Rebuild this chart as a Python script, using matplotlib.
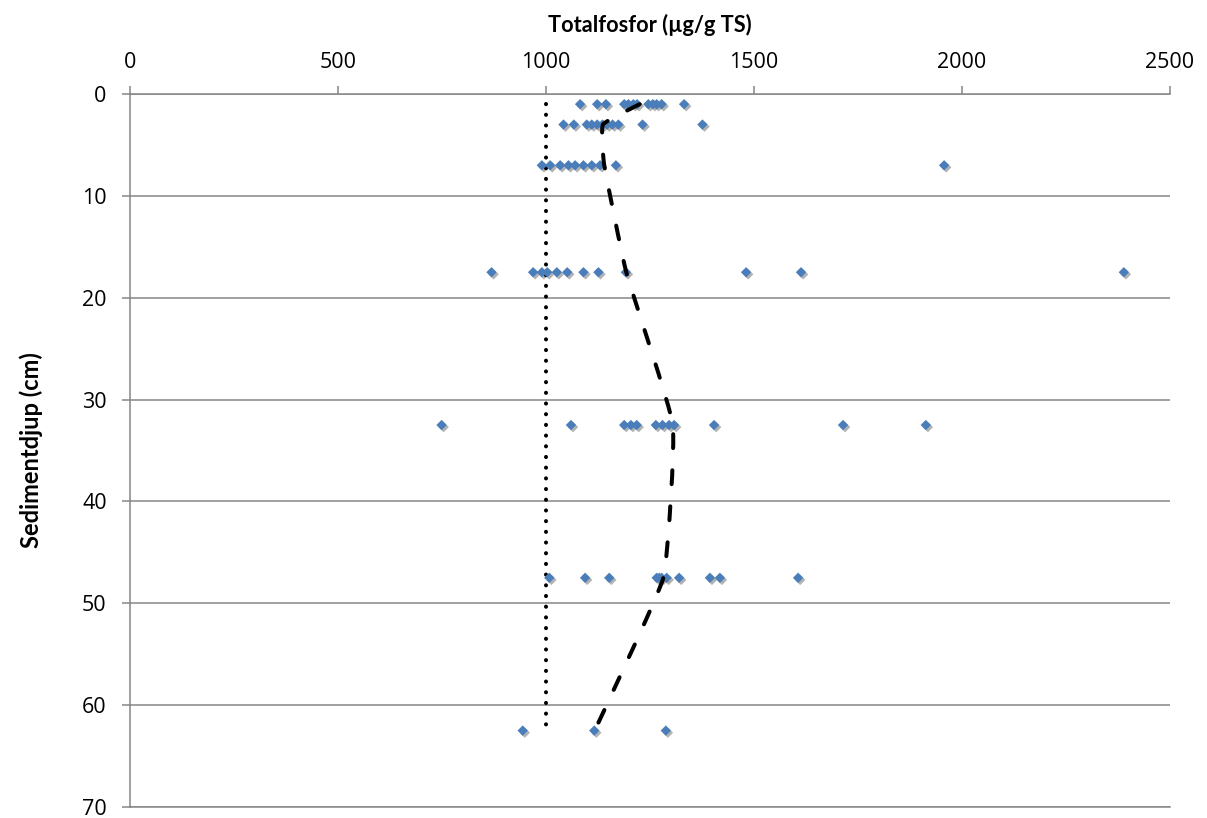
import matplotlib
matplotlib.use("Agg")
import matplotlib.pyplot as plt
from matplotlib.path import Path
from matplotlib.patches import PathPatch
import matplotlib.patheffects as pe

plt.rcParams['font.family'] = ['Open Sans', 'DejaVu Sans']
plt.rcParams['lines.scale_dashes'] = False

# ---- data ----
depths = [1, 3, 7, 17.5, 32.5, 47.5, 62.5]
values_1 = [1082, 1123, 1144, 1188, 1198, 1210, 1219, 1246, 1257, 1266, 1278, 1332]
values_3 = [1042, 1067, 1098, 1110, 1123, 1136, 1147, 1160, 1174, 1232, 1376]
values_7 = [990, 1010, 1034, 1054, 1070, 1090, 1110, 1130, 1168, 1957]
values_17_5 = [869, 969, 990, 1003, 1026, 1051, 1090, 1126, 1192, 1481, 1613, 2389]
values_32_5 = [749, 1060, 1188, 1204, 1218, 1264, 1280, 1296, 1308, 1404, 1714, 1913]
values_47_5 = [1008, 1094, 1152, 1266, 1272, 1278, 1290, 1320, 1394, 1418, 1606]
values_62_5 = [944, 1116, 1288]
all_values = [values_1, values_3, values_7, values_17_5, values_32_5, values_47_5, values_62_5]

trend_depth = [1, 3, 7, 17.5, 32.5, 47.5, 62.5]
trend_value = [1225, 1137, 1140, 1193, 1305, 1282, 1117]

ref_depth = [1, 62.5]
ref_value = [1000, 1000]

x_ticks = [0, 500, 1000, 1500, 2000, 2500]
y_ticks = [0, 10, 20, 30, 40, 50, 60, 70]

# ---- figure ----
fig = plt.figure(figsize=(12.07, 8.18), dpi=100)
ax = fig.add_axes([130 / 1207, 11 / 818, 1040 / 1207, 713 / 818])
ax.set_xlim(0, 2500)
ax.set_ylim(70, 0)

grey = '#868686'
ax.xaxis.tick_top()
ax.xaxis.set_label_position('top')
ax.set_xticks(x_ticks)
ax.set_yticks(y_ticks)
ax.tick_params(axis='both', direction='out', length=5.8, width=1.1, color=grey,
               labelsize=15.5, labelcolor='black')
ax.tick_params(axis='x', pad=9)
ax.tick_params(axis='y', pad=11)
ax.grid(axis='y', color=grey, lw=1.1)
ax.set_axisbelow(True)
for s in ['top', 'left', 'bottom']:
    ax.spines[s].set_color(grey)
    ax.spines[s].set_linewidth(1.1)
ax.spines['right'].set_visible(False)

ax.set_xlabel('Totalfosfor (µg/g TS)', fontsize=15.7, fontweight='bold',
              family=['Lato', 'DejaVu Sans'], labelpad=15)
ax.set_ylabel('Sedimentdjup (cm)', fontsize=17, fontweight='bold',
              family=['Lato', 'DejaVu Sans'], labelpad=28)

# scatter points
xs, ys = [], []
for d, vals in zip(depths, all_values):
    xs.extend(vals)
    ys.extend([d] * len(vals))
sc = ax.scatter(xs, ys, marker='D', s=28, color='#4A7EBB', edgecolors='none', zorder=4)
sc.set_path_effects([pe.SimplePatchShadow(offset=(1.5, -1.5), shadow_rgbFace='black', alpha=0.3),
                     pe.Normal()])

# reference dotted line
ax.plot(ref_value, ref_depth, color='black', lw=2.9, linestyle=(0, (0.1, 7.6)),
        dash_capstyle='round', zorder=3)

# lightly smoothed dashed trend (Bezier through points)
k = 0.06
pts = list(zip(trend_value, trend_depth))
verts = [pts[0]]
codes = [Path.MOVETO]
n = len(pts)
for i in range(n - 1):
    p0 = pts[i - 1] if i > 0 else pts[i]
    p1 = pts[i]
    p2 = pts[i + 1]
    p3 = pts[i + 2] if i + 2 < n else pts[i + 1]
    c1 = (p1[0] + (p2[0] - p0[0]) * k, p1[1] + (p2[1] - p0[1]) * k)
    c2 = (p2[0] - (p3[0] - p1[0]) * k, p2[1] - (p3[1] - p1[1]) * k)
    verts += [c1, c2, p2]
    codes += [Path.CURVE4] * 3
patch = PathPatch(Path(verts, codes), fill=False, edgecolor='black', lw=2.9,
                  linestyle=(0, (10, 16)), capstyle='round', joinstyle='round', zorder=5)
ax.add_patch(patch)

fig.savefig('out.png', dpi=100)
